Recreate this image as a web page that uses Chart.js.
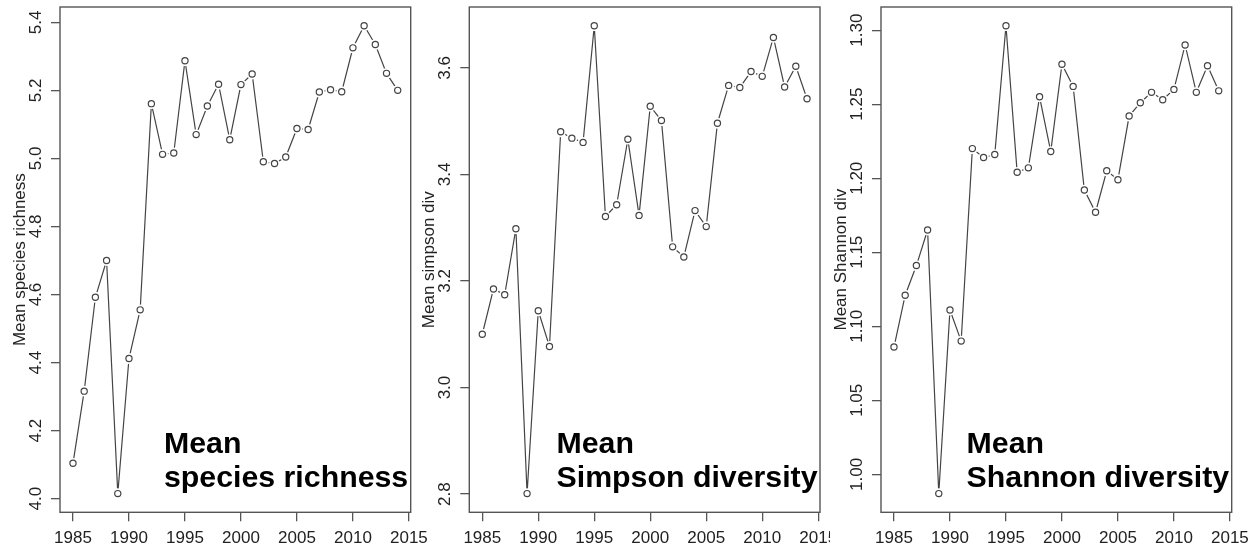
<!DOCTYPE html>
<html>
<head>
<meta charset="utf-8">
<script src="https://cdn.jsdelivr.net/npm/chart.js@4.4.1/dist/chart.umd.min.js"></script>
<style>
  html, body { margin: 0; padding: 0; background: #fff; }
  body { width: 1260px; height: 548px; position: relative; overflow: hidden; }
  .panel { position: absolute; top: 0; height: 548px; }
</style>
</head>
<body>
<div class="panel" style="left:0;width:440px"><canvas id="c1"></canvas></div>
<div class="panel" style="left:420px;width:410px"><canvas id="c2"></canvas></div>
<div class="panel" style="left:830px;width:430px"><canvas id="c3"></canvas></div>
<script>
const years = [1985, 1986, 1987, 1988, 1989, 1990, 1991, 1992, 1993, 1994,
               1995, 1996, 1997, 1998, 1999, 2000, 2001, 2002, 2003, 2004,
               2005, 2006, 2007, 2008, 2009, 2010, 2011, 2012, 2013, 2014];

const richness = [4.104, 4.316, 4.592, 4.700, 4.015, 4.412, 4.555, 5.161, 5.012, 5.016,
                  5.287, 5.070, 5.154, 5.218, 5.055, 5.217, 5.248, 4.990, 4.985, 5.004,
                  5.088, 5.085, 5.195, 5.202, 5.196, 5.325, 5.390, 5.335, 5.250, 5.200];

const simpson = [3.100, 3.185, 3.174, 3.298, 2.801, 3.144, 3.077, 3.480, 3.468, 3.460,
                 3.679, 3.321, 3.343, 3.466, 3.323, 3.528, 3.501, 3.264, 3.245, 3.332,
                 3.302, 3.496, 3.567, 3.563, 3.593, 3.584, 3.657, 3.564, 3.603, 3.542];

const shannon = [1.086, 1.121, 1.141, 1.165, 0.987, 1.111, 1.090, 1.220, 1.214, 1.216,
                 1.303, 1.204, 1.207, 1.255, 1.218, 1.277, 1.262, 1.192, 1.177, 1.205,
                 1.199, 1.242, 1.251, 1.258, 1.253, 1.260, 1.290, 1.258, 1.276, 1.259];

const xTicks = [1985, 1990, 1995, 2000, 2005, 2010, 2015];
const richnessTicks = [4.0, 4.2, 4.4, 4.6, 4.8, 5.0, 5.2, 5.4];
const simpsonTicks = [2.8, 3.0, 3.2, 3.4, 3.6];
const shannonTicks = [1.00, 1.05, 1.10, 1.15, 1.20, 1.25, 1.30];

const FONT = '"Liberation Sans", Arial, Helvetica, sans-serif';
const INK = '#444';
const BOX = '#555';

// R style axis range: data range plus 4% on each side
function rRange(vals) {
    const lo = Math.min(...vals), hi = Math.max(...vals);
    const pad = (hi - lo) * 0.04;
    return [lo - pad, hi + pad];
}

// box, rotated y tick labels, y title and the big annotation
const rDecor = {
    id: 'rDecor',
    afterDraw(chart, args, opts) {
        const ctx = chart.ctx;
        const a = chart.chartArea;
        const ys = chart.scales.y;
        ctx.save();
        ctx.strokeStyle = BOX;
        ctx.lineWidth = 1.4;
        ctx.strokeRect(a.left, a.top, a.right - a.left, a.bottom - a.top);

        ctx.fillStyle = '#222';
        ctx.textAlign = 'center';
        ctx.textBaseline = 'middle';
        ctx.font = '17px ' + FONT;
        ys.ticks.forEach(t => {
            const py = ys.getPixelForValue(t.value);
            ctx.save();
            ctx.translate(a.left - 23.5, py);
            ctx.rotate(-Math.PI / 2);
            ctx.fillText(t.value.toFixed(opts.digits), 0, 0);
            ctx.restore();
        });

        ctx.save();
        ctx.translate(a.left - 40, (a.top + a.bottom) / 2);
        ctx.rotate(-Math.PI / 2);
        ctx.font = '17px ' + FONT;
        ctx.fillText(opts.ylab, 0, 0);
        ctx.restore();

        ctx.fillStyle = '#000';
        ctx.textAlign = 'left';
        ctx.textBaseline = 'alphabetic';
        ctx.font = 'bold 30.3px ' + FONT;
        const w = ctx.measureText(opts.note[1]).width;
        const x0 = a.right - 2.5 - w;
        ctx.fillText(opts.note[0], x0, a.bottom - 59);
        ctx.fillText(opts.note[1], x0, a.bottom - 25.6);
        ctx.restore();
    }
};

function makePanel(id, vals, yTicks, digits, ylab, note, yAxisW, rightPad) {
    const pts = years.map((yr, i) => ({ x: yr, y: vals[i] }));
    const [xmin, xmax] = rRange(years);
    const [ymin, ymax] = rRange(vals);
    const grid = {
        drawOnChartArea: false,
        drawTicks: true,
        tickLength: 9,
        color: BOX,
        lineWidth: 1.3
    };
    return new Chart(document.getElementById(id), {
        type: 'line',
        data: {
            datasets: [
                { data: pts, borderColor: INK, borderWidth: 1.2, pointRadius: 0, tension: 0, order: 3 },
                { data: pts, showLine: false, pointRadius: 5.4, pointBackgroundColor: '#fff',
                  pointBorderWidth: 0, order: 2 },
                { data: pts, showLine: false, pointRadius: 3.1, pointBackgroundColor: '#fff',
                  pointBorderColor: INK, pointBorderWidth: 1.2, order: 1 }
            ]
        },
        options: {
            responsive: true,
            maintainAspectRatio: false,
            animation: false,
            devicePixelRatio: 1,
            layout: { padding: { top: 7, right: rightPad, left: 0, bottom: 0 } },
            plugins: {
                legend: { display: false },
                tooltip: { enabled: false },
                rDecor: { digits: digits, ylab: ylab, note: note }
            },
            scales: {
                x: {
                    type: 'linear',
                    position: 'bottom',
                    min: xmin,
                    max: xmax,
                    afterBuildTicks: s => { s.ticks = xTicks.map(v => ({ value: v })); },
                    afterFit: s => { s.height = 548 - 512.3; s.paddingLeft = 0; s.paddingRight = 0; },
                    ticks: {
                        autoSkip: false,
                        maxRotation: 0,
                        padding: 7,
                        color: '#222',
                        font: { family: FONT, size: 17 },
                        callback: v => String(v)
                    },
                    grid: grid,
                    border: { display: false }
                },
                y: {
                    type: 'linear',
                    min: ymin,
                    max: ymax,
                    afterBuildTicks: s => { s.ticks = yTicks.map(v => ({ value: v })); },
                    afterFit: s => { s.width = yAxisW; s.paddingTop = 0; s.paddingBottom = 0; },
                    ticks: { display: false },
                    grid: grid,
                    border: { display: false }
                }
            }
        },
        plugins: [rDecor]
    });
}

makePanel('c1', richness, richnessTicks, 1, 'Mean species richness',
          ['Mean', 'species richness'], 60, 440 - 410.7);
makePanel('c2', simpson, simpsonTicks, 1, 'Mean simpson div',
          ['Mean', 'Simpson diversity'], 469.3 - 420, 830 - 820);
makePanel('c3', shannon, shannonTicks, 2, 'Mean Shannon div',
          ['Mean', 'Shannon diversity'], 881 - 830, 1260 - 1231.7);
</script>
</body>
</html>
